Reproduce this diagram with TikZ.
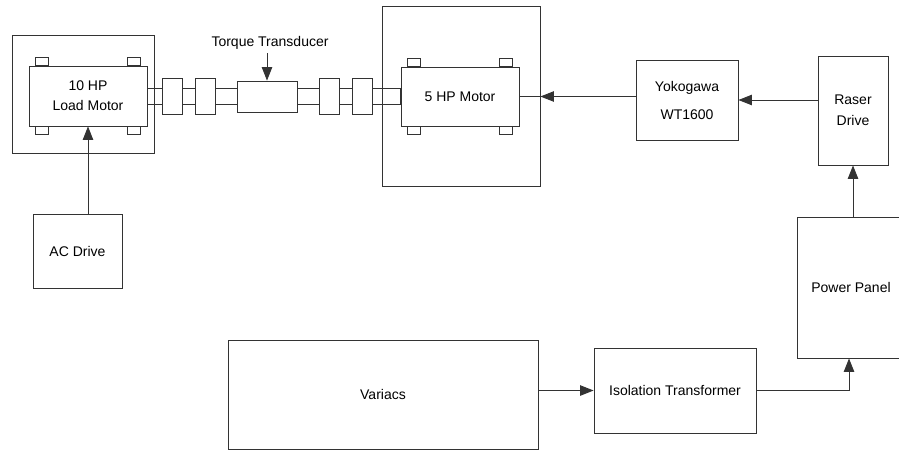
\documentclass[tikz,border=0pt]{standalone}
\usepackage{fontspec}
\setmainfont{Liberation Sans}
\usepackage{tikz}
\usetikzlibrary{positioning,calc,arrows.meta}
\definecolor{ink}{HTML}{333333}
\tikzset{
  every node/.style={font=\fontsize{14}{17}\selectfont},
  % --- nodes
  blk/.style   = {draw=ink, line width=0.9pt, fill=white, align=center, inner sep=0pt},
  frame/.style = {draw=ink, line width=0.9pt, inner sep=0pt},
  cpl/.style   = {blk, minimum width=20pt, minimum height=36pt},
  % --- edges
  e/.style     = {-{Triangle[width=10.5pt,length=13.5pt]}, line width=0.9pt, draw=ink},
  ln/.style    = {line width=0.9pt, draw=ink},
}
\begin{document}
\begin{tikzpicture}[x=1pt,y=-1pt]
  \useasboundingbox (0,0) rectangle (899,450);
  \clip (0,0) rectangle (899,450);
  % --- motors on their frames
  \node[frame, minimum width=142pt, minimum height=118pt] (box10) at (83,94) {};
  \node[frame, minimum width=158pt, minimum height=180pt] (box5) at (461,96) {};
  \node[blk, minimum width=118pt, minimum height=60pt] (motor10) at (88,96) {10 HP\\[3pt]Load Motor};
  \node[blk, minimum width=118pt, minimum height=59pt] (motor5) at (460,96.5) {5 HP Motor};
  \foreach \m in {motor10,motor5}{
    \draw[ln] ([xshift=7pt]\m.north west) rectangle ++(13,-8);
    \draw[ln] ([xshift=-7pt]\m.north east) rectangle ++(-13,-8);
    \draw[ln] ([xshift=7pt]\m.south west) rectangle ++(13,8);
    \draw[ln] ([xshift=-7pt]\m.south east) rectangle ++(-13,8);
  }
  % --- shaft, couplings and torque transducer
  \draw[ln] ([yshift=7.5pt]motor10.east) rectangle ([yshift=-7.5pt]motor5.west);
  \foreach \n/\x in {c1/172,c2/205.5,c3/329,c4/362}
    \node[cpl] (\n) at (\x,96) {};
  \node[blk, minimum width=60pt, minimum height=31pt] (tq) at (267,96.5) {};
  \node (tqlbl) at (270,43) {Torque Transducer};
  \draw[e] (tqlbl.south -| tq.north) -- (tq.north);
  % --- drives and measurement
  \node[blk, minimum width=89pt, minimum height=74pt] (acdrive) at (77.5,251) {AC Drive};
  \node[blk, minimum width=102pt, minimum height=80pt] (yoko) at (687,100) {Yokogawa\\[11pt]WT1600};
  \node[blk, minimum width=70pt, minimum height=109pt] (raser) at (853,110.5) {Raser\\[4pt]Drive};
  \node[blk, minimum width=108pt, minimum height=141pt] (powerp) at (851,287.5) {Power Panel};
  \node[blk, minimum width=310pt, minimum height=109pt] (variacs) at (383,394.5) {Variacs};
  \node[blk, minimum width=162pt, minimum height=85pt] (iso) at (675,390.5) {Isolation Transformer};
  % --- connections
  \draw[e] (acdrive.north -| motor10.south) -- (motor10.south);
  \draw[ln] (box5.east |- motor5.east) -- (motor5.east);
  \draw[e] (yoko.west |- motor5.east) -- (box5.east |- motor5.east);
  \draw[e] (raser.west |- yoko.east) -- (yoko.east);
  \draw[e] (powerp.north -| raser.south) -- (raser.south);
  \draw[e] (variacs.east |- iso.west) -- (iso.west);
  \draw[e] (iso.east) -| ([xshift=-2pt]powerp.south);
\end{tikzpicture}
\end{document}
